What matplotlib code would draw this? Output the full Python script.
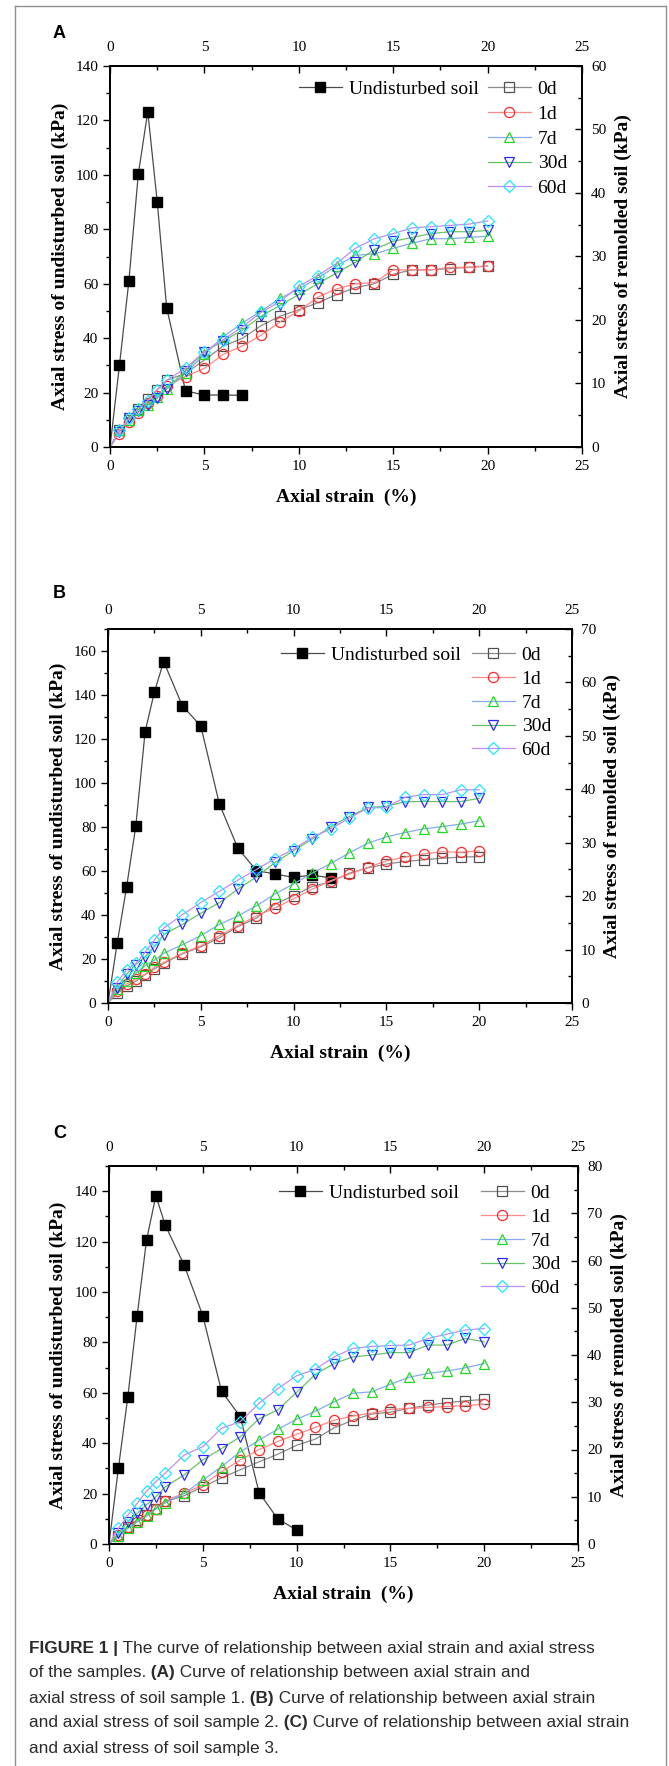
import matplotlib
matplotlib.use('Agg')
from matplotlib import pyplot as plt
from matplotlib import font_manager
from matplotlib.lines import Line2D
from matplotlib.ticker import MultipleLocator

# ---- data ----
strain = [0, 0.5, 1, 1.5, 2, 2.5, 3, 4, 5, 6, 7, 8, 9, 10, 11, 12, 13, 14, 15, 16, 17, 18, 19, 20]
ages = ['0d', '1d', '7d', '30d', '60d']

# panel A, sample 1
und_strain_a = [0, 0.5, 1, 1.5, 2, 2.5, 3, 4, 5, 6, 7]
und_a = [0, 30, 61, 100.3, 123.2, 90.2, 51.2, 20.6, 19.1, 19.1, 19]
rem_a = {
    '0d': [0, 2.6, 4.3, 6.0, 7.5, 9.0, 10.5, 11.6, 13.7, 15.9, 17.1, 19.1, 20.6, 21.6, 22.7, 24.0, 25.1, 25.7, 27.2, 27.9, 27.9, 28.1, 28.3, 28.5],
    '1d': [0, 2.1, 3.9, 5.4, 6.9, 8.1, 9.6, 11.1, 12.4, 14.6, 15.9, 17.6, 19.7, 21.4, 23.6, 24.9, 25.7, 25.9, 27.9, 27.9, 27.9, 28.3, 28.3, 28.5],
    '7d': [0, 2.6, 4.3, 5.8, 6.6, 7.9, 9.2, 11.6, 14.6, 17.4, 19.5, 21.4, 23.4, 24.9, 26.6, 28.5, 30.2, 30.4, 31.3, 32.1, 32.8, 32.8, 33.0, 33.2],
    '30d': [0, 2.4, 4.5, 5.6, 6.6, 7.7, 9.2, 12.0, 15.0, 16.7, 18.4, 20.6, 22.3, 24.0, 25.7, 27.4, 29.1, 31.1, 32.4, 33.0, 33.6, 33.9, 33.9, 34.1],
    '60d': [0, 2.6, 4.5, 6.0, 7.3, 9.0, 10.5, 12.4, 15.0, 16.9, 18.9, 21.2, 22.9, 25.3, 27.0, 28.9, 31.3, 32.8, 33.6, 34.5, 34.7, 34.9, 35.1, 35.6],
}

# panel B, sample 2
und_strain_b = [0, 0.5, 1, 1.5, 2, 2.5, 3, 4, 5, 6, 7, 8, 9, 10, 11, 12]
und_b = [0, 27.4, 52.6, 80.6, 123.3, 141.4, 155.2, 135.2, 125.9, 90.5, 70.3, 60.2, 58.6, 57.1, 58.2, 56.8]
rem_b = {
    '0d': [0, 1.8, 3.2, 4.1, 5.3, 6.4, 7.4, 9.2, 10.5, 12.2, 14.3, 15.9, 18.5, 20.1, 21.8, 22.7, 24.3, 25.3, 26.0, 26.5, 26.8, 27.1, 27.3, 27.4],
    '1d': [0, 2.2, 3.6, 4.5, 5.4, 6.7, 7.6, 9.3, 10.7, 12.6, 14.5, 16.3, 17.8, 19.5, 21.3, 22.9, 24.1, 25.4, 26.6, 27.3, 27.9, 28.3, 28.2, 28.5],
    '7d': [0, 2.6, 4.2, 5.6, 7.0, 8.0, 9.3, 10.9, 12.6, 14.7, 16.3, 18.2, 20.4, 22.3, 24.3, 26.1, 28.1, 29.9, 31.1, 31.9, 32.6, 33.0, 33.5, 34.1],
    '30d': [0, 2.9, 5.4, 7.2, 8.7, 10.5, 12.8, 14.7, 16.8, 18.8, 21.3, 23.6, 26.3, 28.5, 30.7, 33.0, 34.9, 36.6, 36.8, 37.7, 37.7, 37.7, 37.7, 38.3],
    '60d': [0, 3.9, 6.2, 7.4, 9.5, 11.8, 14.0, 16.5, 18.8, 20.9, 23.0, 25.0, 27.0, 28.8, 31.0, 32.6, 34.6, 36.5, 36.6, 38.5, 39.0, 39.0, 39.9, 39.9],
}

# panel C, sample 3
und_strain_c = [0, 0.5, 1, 1.5, 2, 2.5, 3, 4, 5, 6, 7, 8, 9, 10]
und_c = [0, 30.0, 58.2, 90.5, 120.6, 138.2, 126.5, 110.8, 90.6, 60.6, 50.5, 20.4, 9.9, 5.6]
rem_c = {
    '0d': [0, 1.6, 3.7, 5.1, 6.1, 7.5, 9.0, 10.2, 12.1, 14.0, 15.7, 17.4, 19.0, 20.9, 22.2, 24.6, 26.2, 27.5, 27.9, 28.7, 29.4, 29.9, 30.3, 30.6],
    '1d': [0, 1.9, 3.7, 4.7, 6.1, 7.5, 9.2, 10.7, 12.5, 15.3, 17.8, 20.0, 21.7, 23.2, 24.7, 26.2, 27.1, 27.7, 28.5, 28.7, 28.9, 29.1, 29.3, 29.6],
    '7d': [0, 1.6, 3.3, 4.7, 5.9, 7.5, 8.7, 10.7, 13.5, 16.4, 19.5, 22.0, 24.3, 26.4, 28.1, 30.1, 31.9, 32.2, 33.8, 35.3, 36.1, 36.6, 37.3, 38.2],
    '30d': [0, 2.3, 4.7, 6.5, 8.3, 10.0, 12.1, 14.6, 17.8, 20.2, 22.7, 26.5, 28.4, 32.1, 35.9, 38.2, 39.6, 40.0, 40.5, 40.5, 42.1, 42.1, 43.5, 42.8],
    '60d': [0, 3.3, 6.1, 8.6, 11.2, 13.2, 15.0, 18.8, 20.6, 24.5, 25.9, 29.8, 32.9, 35.6, 37.0, 39.6, 41.4, 41.8, 42.0, 42.1, 43.5, 44.4, 45.3, 45.6],
}

panels = [
    ('A', und_strain_a, und_a, rem_a, 140, 60),
    ('B', und_strain_b, und_b, rem_b, 170, 70),
    ('C', und_strain_c, und_c, rem_c, 150, 80),
]

caption_lines = [
    [('FIGURE 1 |', True), (' The curve of relationship between axial strain and axial stress', False)],
    [('of the samples.', False), (' (A)', True), (' Curve of relationship between axial strain and', False)],
    [('axial stress of soil sample 1.', False), (' (B)', True), (' Curve of relationship between axial strain', False)],
    [('and axial stress of soil sample 2.', False), (' (C)', True), (' Curve of relationship between axial strain', False)],
    [('and axial stress of soil sample 3.', False)],
]

# ---- styles ----
markers = ['s', 'o', '^', 'v', 'D']
mk_colors = ['#505050', '#ff2a2a', '#22d822', '#2a2aff', '#20e8ff']
ln_colors = ['#8c8c8c', '#ff8a8a', '#86aaf5', '#66c466', '#c48cf0']

W, H, DPI = 669, 1766, 100

# axes boxes in pixels: left, right, top, bottom
boxes = [(110, 582, 66, 447), (108, 572, 629, 1003), (109, 578, 1166, 1544)]
ylab_x = [(60, 623), (58, 612), (58, 619)]
letter_xy = [(59, 33), (59, 593), (60, 1133)]
leg_rows = [87, 653, 1191]
leg_pitch = [25, 24, 24]
leg_x = [(299, 488), (281, 472), (279, 481)]

serif = 'Liberation Serif'
plt.rcParams['font.family'] = [serif, 'DejaVu Serif']


def font_ok(name):
    try:
        font_manager.findfont(name, fallback_to_default=False)
        return True
    except Exception:
        return False


cap_family = 'Liberation Sans Narrow' if font_ok('Liberation Sans Narrow') else 'Liberation Sans'
cap_size = 13.5 if cap_family == 'Liberation Sans Narrow' else 12.4

fig = plt.figure(figsize=(W / DPI, H / DPI), dpi=DPI)


def fx(px):
    return px / W


def fy(py):
    return 1 - py / H


for i, (letter, xs_u, ys_u, rem, ymax_l, ymax_r) in enumerate(panels):
    l, r, t, b = boxes[i]
    ax = fig.add_axes([fx(l), fy(b), (r - l) / W, (b - t) / H])
    ax2 = ax.twinx()

    und_line, = ax.plot(xs_u, ys_u, color='#4a4a4a', lw=0.9, marker='s', ms=6.5,
                        mfc='black', mec='black', markevery=slice(1, None),
                        label='Undisturbed soil', zorder=3)
    rem_lines = []
    for k, age in enumerate(ages):
        ln, = ax2.plot(strain, rem[age], color=ln_colors[k], lw=0.9, marker=markers[k],
                       ms=7.3 if markers[k] != 'D' else 6.2, mfc='none', mec=mk_colors[k], mew=0.9,
                       markevery=slice(1, None), label=age)
        rem_lines.append(ln)

    ax.set_xlim(0, 25)
    ax.set_ylim(0, ymax_l)
    ax2.set_ylim(0, ymax_r)

    ax.xaxis.set_major_locator(MultipleLocator(5))
    ax.xaxis.set_minor_locator(MultipleLocator(2.5))
    ax.yaxis.set_major_locator(MultipleLocator(20))
    ax.yaxis.set_minor_locator(MultipleLocator(10))
    ax2.yaxis.set_major_locator(MultipleLocator(10))
    ax2.yaxis.set_minor_locator(MultipleLocator(5))

    ax.tick_params(axis='both', which='major', direction='out', length=5, width=1, labelsize=11, pad=3.5)
    ax.tick_params(axis='both', which='minor', direction='out', length=3, width=1)
    ax.tick_params(axis='x', which='major', pad=4.5)
    ax2.tick_params(axis='y', which='major', direction='in', length=5, width=1, labelsize=11, pad=6.5)
    ax2.tick_params(axis='y', which='minor', direction='in', length=3, width=1)

    top = ax.secondary_xaxis('top')
    top.xaxis.set_major_locator(MultipleLocator(5))
    top.xaxis.set_minor_locator(MultipleLocator(2.5))
    top.tick_params(which='major', direction='in', length=5, width=1, labelsize=11, pad=8.5)
    top.tick_params(which='minor', direction='in', length=3, width=1)

    for a in (ax, ax2):
        for s in a.spines.values():
            s.set_linewidth(1.3)
    top.spines['top'].set_linewidth(1.3)

    ax.set_xlabel('Axial strain  (%)', fontsize=14, fontweight='bold', va='center')
    ax.xaxis.set_label_coords(0.5, -50 / (b - t))
    ax.set_ylabel('Axial stress of undisturbed soil (kPa)', fontsize=14, fontweight='bold', va='center')
    ax.yaxis.set_label_coords((ylab_x[i][0] - l) / (r - l), 0.5)
    ax2.set_ylabel('Axial stress of remolded soil (kPa)', fontsize=14, fontweight='bold', va='center')
    ax2.yaxis.set_label_coords((ylab_x[i][1] - l) / (r - l), 0.5)

    fig.text(fx(letter_xy[i][0]), fy(letter_xy[i][1]), letter, family='Liberation Sans',
             fontsize=13, fontweight='bold', ha='center', va='center')

    # legends: undisturbed on its own, remolded ages in a column
    fs = 14
    fs_px = fs * DPI / 72
    spacing = (leg_pitch[i] - 1.17 * fs_px) / fs_px + 0.25
    anchor_y = fy(leg_rows[i] - 0.585 * fs_px + 5)
    leg_kw = dict(loc='upper left', bbox_transform=fig.transFigure, frameon=False, fontsize=fs,
                  borderpad=0, borderaxespad=0, handlelength=2.2, handletextpad=0.35,
                  labelspacing=spacing, numpoints=1)
    leg1 = ax2.legend(handles=[und_line], bbox_to_anchor=(fx(leg_x[i][0]), anchor_y), **leg_kw)
    ax2.add_artist(leg1)
    ax2.legend(handles=rem_lines, bbox_to_anchor=(fx(leg_x[i][1]), anchor_y), **leg_kw)

# outer frame
frame_kw = dict(color='#8f8f8f', lw=1.0, transform=fig.transFigure)
fig.add_artist(Line2D([fx(15), fx(15)], [fy(6), 0], **frame_kw))
fig.add_artist(Line2D([fx(666), fx(666)], [fy(6), 0], **frame_kw))
fig.add_artist(Line2D([fx(15), fx(666)], [fy(6), fy(6)], **frame_kw))

# caption, drawn piece by piece so bold parts sit inline
renderer = fig.canvas.get_renderer()
cap_y = [1648, 1673, 1698, 1723, 1748]
for j, parts in enumerate(caption_lines):
    x = fx(29)
    for txt, bold in parts:
        tt = fig.text(x, fy(cap_y[j]), txt, family=cap_family, fontsize=cap_size,
                      fontweight='bold' if bold else 'normal', color='#2b2b2b',
                      ha='left', va='center')
        bb = tt.get_window_extent(renderer)
        x = bb.x1 / fig.bbox.width

fig.savefig('out.png', dpi=DPI)
